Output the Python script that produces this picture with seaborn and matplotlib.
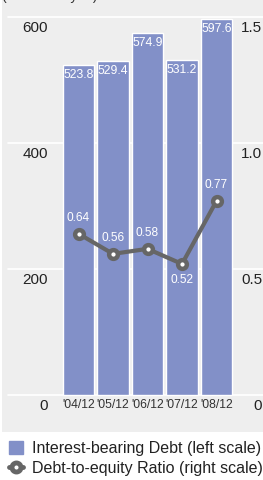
import numpy as np
import matplotlib
matplotlib.use("Agg")
import matplotlib.pyplot as plt
import seaborn as sns
from matplotlib.patches import Rectangle
from matplotlib.lines import Line2D

# data
years = ["'04/12", "'05/12", "'06/12", "'07/12", "'08/12"]
debt = [523.8, 529.4, 574.9, 531.2, 597.6]
ratio = [0.64, 0.56, 0.58, 0.52, 0.77]
left_ticks = [0, 200, 400, 600]
right_ticks = ["0", "0.5", "1.0", "1.5"]

bar_color = "#8290c8"
line_color = "#666666"
panel = "#eeeeee"

sns.set_style("white")
plt.rcParams["font.family"] = ["Liberation Sans", "DejaVu Sans"]

W, H = 263, 480
fig = plt.figure(figsize=(W / 100, H / 100), dpi=100)

# left axis: 0 at y=395px, 0.63 px per unit
px_per = 0.63
y0_px = 395
ymin = -(432 - y0_px) / px_per
ymax = y0_px / px_per

ax = fig.add_axes([2 / W, 48 / H, 261 / W, 432 / H])
ax.set_facecolor(panel)
sns.barplot(x=years, y=debt, color=bar_color, saturation=1, width=0.9, ax=ax, zorder=2)
step = 34.5
ax.set_xlim(-(78.5 - 2) / step, 4 + (263 - 216.5) / step)
ax.set_ylim(ymin, ymax)
for s in ax.spines.values():
    s.set_visible(False)
ax.set_xticks([])
ax.set_yticks([])
ax.set_xlabel("")
ax.set_ylabel("")

# gridlines
for t in left_ticks:
    ax.axhline(t, xmin=6 / 261, xmax=1, color="white", lw=1.2, zorder=1)

# axis labels sit just below each gridline
lx = (48 - 78.5) / step
rx = 4 + (262 - 216.5) / step
off = 10.5 / px_per
for t, rt in zip(left_ticks, right_ticks):
    ax.text(lx, t - off, str(t), ha="right", va="center", fontsize=11, color="#222222")
    ax.text(rx, t - off, rt, ha="right", va="center", fontsize=11, color="#222222")

for i, (y, v) in enumerate(zip(years, debt)):
    ax.text(i, -off, y, ha="center", va="center", fontsize=8.8, color="#333333")
    ax.text(i, v - 10 / px_per, f"{v:.1f}", ha="center", va="center",
            fontsize=8.8, color="white", zorder=5)

# ratio line on right scale
ax2 = ax.twinx()
ax2.set_ylim(ymin / 400, ymax / 400)
sns.lineplot(x=np.arange(len(ratio)), y=ratio, ax=ax2, color=line_color, lw=3,
             marker="o", markersize=6.3, markerfacecolor="white",
             markeredgecolor=line_color, markeredgewidth=3.2, zorder=4)
ax2.set_xlim(ax.get_xlim())
ax2.set_yticks([])
for s in ax2.spines.values():
    s.set_visible(False)
d = 16 / px_per / 400
for i, r in enumerate(ratio):
    yy = r - d if i == 3 else r + d
    ax2.text(i, yy, f"{r:.2f}", ha="center", va="center", fontsize=8.6, color="white", zorder=5)

# unit note, clipped at the very top like the original
fig.text(2 / W, 1 + 4 / H, "(Billions of yen)", ha="left", va="center", fontsize=10, color="#333333")

handles = [
    Rectangle((0, 0), 1, 1, color=bar_color),
    Line2D([], [], color=line_color, lw=3.5, marker="o", markersize=6.5,
           markerfacecolor="white", markeredgecolor=line_color, markeredgewidth=3.5),
]
fig.legend(handles, ["Interest-bearing Debt (left scale)", "Debt-to-equity Ratio (right scale)"],
           loc="upper left", bbox_to_anchor=(9 / W, 1 - 441 / H), frameon=False,
           fontsize=11.5, handlelength=0.9, handleheight=0.9, handletextpad=0.55,
           labelspacing=0.28, borderaxespad=0, borderpad=0, labelcolor="#222222")

fig.savefig("out.png", dpi=100)
